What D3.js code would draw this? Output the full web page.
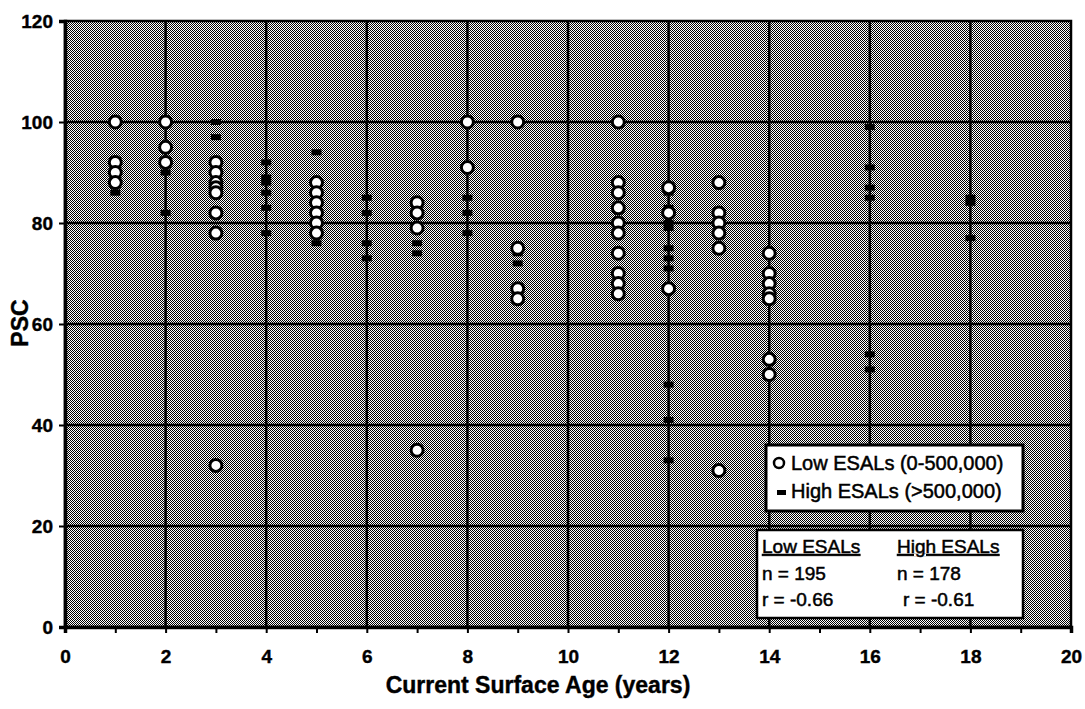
<!DOCTYPE html>
<html>
<head>
<meta charset="utf-8">
<script src="https://cdn.jsdelivr.net/npm/d3@7"></script>
<style>
  body { margin: 0; background: #fff; }
  text { font-family: "Liberation Sans", Arial, sans-serif; }
</style>
</head>
<body>
<div id="chart"></div>
<script>
// Axis ticks
const xTicks = [0, 2, 4, 6, 8, 10, 12, 14, 16, 18, 20];
const yTicks = [0, 20, 40, 60, 80, 100, 120];

// Low ESALs (0-500,000): [surface age, PSC]
const lowESALs = [
  [1, 100], [1, 92], [1, 90], [1, 88],
  [2, 100], [2, 95], [2, 92],
  [3, 92], [3, 90], [3, 88], [3, 87], [3, 86], [3, 82], [3, 78], [3, 32],
  [5, 88], [5, 86], [5, 84], [5, 82], [5, 80], [5, 78],
  [7, 84], [7, 82], [7, 79], [7, 35],
  [8, 100], [8, 91],
  [9, 100], [9, 75], [9, 67], [9, 65],
  [11, 100], [11, 88], [11, 86], [11, 83], [11, 80], [11, 78], [11, 74], [11, 70], [11, 68], [11, 66],
  [12, 87], [12, 82], [12, 67],
  [13, 88], [13, 82], [13, 80], [13, 78], [13, 75], [13, 31],
  [14, 74], [14, 70], [14, 68], [14, 66], [14, 65], [14, 53], [14, 50]
];

// High ESALs (>500,000): [surface age, PSC]
const highESALs = [
  [1, 86],
  [2, 90], [2, 82],
  [3, 100], [3, 97],
  [4, 92], [4, 89], [4, 88], [4, 86], [4, 83], [4, 78],
  [5, 94], [5, 76],
  [6, 85], [6, 82], [6, 76], [6, 73],
  [7, 76], [7, 74],
  [8, 85], [8, 82], [8, 78],
  [9, 74], [9, 72],
  [12, 86], [12, 83], [12, 80], [12, 79], [12, 75], [12, 73], [12, 71], [12, 48], [12, 41], [12, 33],
  [14, 74], [14, 65],
  [16, 99], [16, 91], [16, 87], [16, 85], [16, 54], [16, 51],
  [18, 85], [18, 84], [18, 77]
];

const width = 1085;
const height = 709;

const svg = d3.select("#chart")
  .append("svg")
  .attr("width", width)
  .attr("height", height);

const x = d3.scaleLinear().domain([0, 20]).range([65, 1071]);
const y = d3.scaleLinear().domain([0, 120]).range([627, 21]);

// dithered grey background, like the scanned halftone
const pat = svg.append("defs").append("pattern")
  .attr("id", "dither")
  .attr("patternUnits", "userSpaceOnUse")
  .attr("width", 2)
  .attr("height", 2);
pat.append("rect").attr("width", 2).attr("height", 2).attr("fill", "#fff");
pat.append("rect").attr("x", 0).attr("y", 0).attr("width", 1).attr("height", 1).attr("fill", "#000");
pat.append("rect").attr("x", 1).attr("y", 1).attr("width", 1).attr("height", 1).attr("fill", "#000");

svg.append("rect")
  .attr("x", x(0))
  .attr("y", y(120))
  .attr("width", x(20) - x(0))
  .attr("height", y(0) - y(120))
  .attr("fill", "url(#dither)");

// gridlines
svg.append("g")
  .selectAll("line")
  .data(xTicks.slice(1, -1))
  .join("line")
  .attr("x1", d => x(d)).attr("x2", d => x(d))
  .attr("y1", y(120)).attr("y2", y(0))
  .attr("stroke", "#000")
  .attr("stroke-width", 2.5);

svg.append("g")
  .selectAll("line")
  .data(yTicks.slice(1, -1))
  .join("line")
  .attr("x1", x(0)).attr("x2", x(20))
  .attr("y1", d => y(d)).attr("y2", d => y(d))
  .attr("stroke", "#000")
  .attr("stroke-width", 2.5);

// frame
svg.append("rect")
  .attr("x", x(0))
  .attr("y", y(120))
  .attr("width", x(20) - x(0))
  .attr("height", y(0) - y(120))
  .attr("fill", "none")
  .attr("stroke", "#000")
  .attr("stroke-width", 2.5);

// axes
const xAxis = svg.append("g")
  .attr("transform", `translate(0, ${y(0)})`)
  .call(d3.axisBottom(x)
    .tickValues(d3.range(0, 21))
    .tickSize(6)
    .tickPadding(17)
    .tickFormat(d => d % 2 === 0 ? d : ""));

const yAxis = svg.append("g")
  .attr("transform", `translate(${x(0)}, 0)`)
  .call(d3.axisLeft(y)
    .tickValues(yTicks)
    .tickSize(6)
    .tickPadding(6));

[xAxis, yAxis].forEach(g => {
  g.select(".domain").attr("stroke", "#000").attr("stroke-width", 3.5);
  g.selectAll(".tick line").attr("stroke", "#000").attr("stroke-width", 2);
  g.selectAll(".tick text")
    .attr("fill", "#000")
    .attr("stroke", "#000")
    .attr("stroke-width", 0.4)
    .style("font-size", "19px")
    .style("font-weight", "bold");
});

// high ESALs: small black dashes
svg.append("g")
  .selectAll("rect")
  .data(highESALs)
  .join("rect")
  .attr("x", d => x(d[0]) - 5)
  .attr("y", d => y(d[1]) - 3)
  .attr("width", 10)
  .attr("height", 6)
  .attr("fill", "#000");

// low ESALs: white circles
svg.append("g")
  .selectAll("circle")
  .data(lowESALs)
  .join("circle")
  .attr("cx", d => x(d[0]))
  .attr("cy", d => y(d[1]))
  .attr("r", 6)
  .attr("fill", "#fff")
  .attr("stroke", "#000")
  .attr("stroke-width", 3);

// axis titles
svg.append("text")
  .attr("x", 538)
  .attr("y", 693)
  .attr("text-anchor", "middle")
  .attr("stroke", "#000")
  .attr("stroke-width", 0.4)
  .style("font-size", "23px")
  .style("font-weight", "bold")
  .text("Current Surface Age (years)");

svg.append("text")
  .attr("transform", "rotate(-90)")
  .attr("x", -323)
  .attr("y", 28)
  .attr("text-anchor", "middle")
  .attr("stroke", "#000")
  .attr("stroke-width", 0.4)
  .style("font-size", "23px")
  .style("font-weight", "bold")
  .text("PSC");

// legend
const legend = svg.append("g");
legend.append("rect")
  .attr("x", 766).attr("y", 445)
  .attr("width", 257).attr("height", 66)
  .attr("fill", "#fff")
  .attr("stroke", "#000")
  .attr("stroke-width", 3);
legend.append("circle")
  .attr("cx", 779).attr("cy", 463).attr("r", 5)
  .attr("fill", "#fff").attr("stroke", "#000").attr("stroke-width", 2.5);
legend.append("text")
  .attr("x", 791).attr("y", 470)
  .attr("stroke", "#000")
  .attr("stroke-width", 0.5)
  .style("font-size", "20px")
  .text("Low ESALs (0-500,000)");
legend.append("rect")
  .attr("x", 777).attr("y", 490).attr("width", 9).attr("height", 5)
  .attr("fill", "#000");
legend.append("text")
  .attr("x", 791).attr("y", 498)
  .attr("stroke", "#000")
  .attr("stroke-width", 0.5)
  .style("font-size", "20px")
  .text("High ESALs (>500,000)");

// statistics box
const stats = svg.append("g");
stats.append("rect")
  .attr("x", 757).attr("y", 530)
  .attr("width", 266).attr("height", 88)
  .attr("fill", "#fff")
  .attr("stroke", "#000")
  .attr("stroke-width", 2.5);

const statRows = [
  { x: 762, y: 553, t: "Low ESALs", u: true },
  { x: 897, y: 553, t: "High ESALs", u: true },
  { x: 762, y: 580, t: "n = 195" },
  { x: 897, y: 580, t: "n = 178" },
  { x: 762, y: 606, t: "r = -0.66" },
  { x: 903, y: 606, t: "r = -0.61" }
];
stats.selectAll("text")
  .data(statRows)
  .join("text")
  .attr("x", d => d.x)
  .attr("y", d => d.y)
  .attr("stroke", "#000")
  .attr("stroke-width", 0.5)
  .style("font-size", "19px")
  .style("text-decoration", d => d.u ? "underline" : "none")
  .text(d => d.t);
</script>
</body>
</html>
